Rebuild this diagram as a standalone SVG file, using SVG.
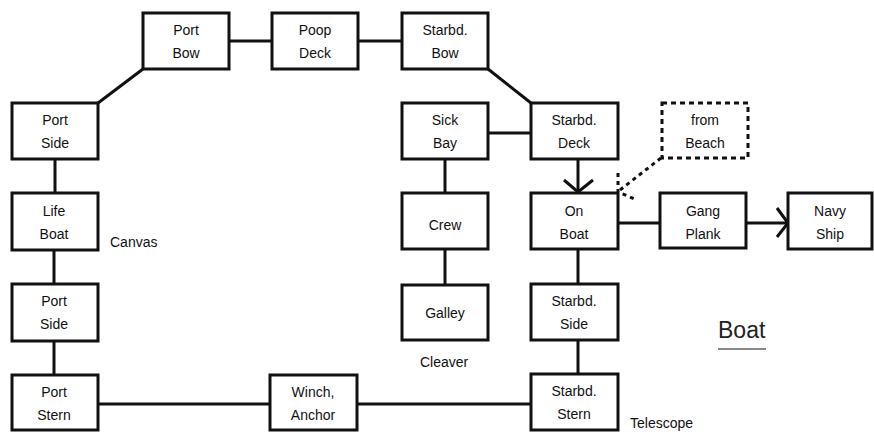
<svg xmlns="http://www.w3.org/2000/svg" width="874" height="432" viewBox="0 0 874 432">
<style>
.box{fill:#fff;stroke:#111;stroke-width:3}
.dbox{fill:#fff;stroke:#111;stroke-width:3;stroke-dasharray:5 4}
.t{font-family:"Liberation Sans",Arial,sans-serif;font-size:14px;fill:#111;text-anchor:middle}
.lbl{font-family:"Liberation Sans",Arial,sans-serif;font-size:14px;fill:#111}
.c{stroke:#111;stroke-width:3;fill:none}
.d{stroke:#111;stroke-width:3;fill:none;stroke-dasharray:4 4}
</style>
<rect width="874" height="432" fill="#fff"/>
<g id="connectors">
<line class="c" x1="229" y1="41" x2="272" y2="41"/>
<line class="c" x1="358" y1="41" x2="402" y2="41"/>
<line class="c" x1="143" y1="69" x2="98" y2="103"/>
<line class="c" x1="488" y1="69" x2="531" y2="103"/>
<line class="c" x1="55" y1="159" x2="55" y2="193"/>
<line class="c" x1="54" y1="249" x2="54" y2="284"/>
<line class="c" x1="54" y1="340" x2="54" y2="375"/>
<line class="c" x1="98" y1="404" x2="270" y2="404"/>
<line class="c" x1="357" y1="404" x2="531" y2="404"/>
<line class="c" x1="578" y1="340" x2="578" y2="375"/>
<line class="c" x1="578" y1="249" x2="578" y2="284"/>
<line class="c" x1="488" y1="133" x2="531" y2="133"/>
<line class="c" x1="445" y1="159" x2="445" y2="193"/>
<line class="c" x1="445" y1="249" x2="445" y2="285"/>
<line class="c" x1="578" y1="159" x2="578" y2="192"/>
<path class="c" d="M564 180 L578 192 L593 180"/>
<line class="c" x1="618" y1="223" x2="660" y2="223"/>
<line class="c" x1="746" y1="223" x2="788" y2="223"/>
<path class="c" d="M777 208 L788 223 L777 237"/>
<line class="d" x1="661" y1="158" x2="620" y2="190"/>
<path class="d" d="M618 173 L618 192 L637 200"/>
</g>
<g id="portBow"><rect class="box" x="143" y="13" width="86" height="56"/><text class="t" x="186" y="35">Port</text><text class="t" x="186" y="58">Bow</text></g>
<g id="poopDeck"><rect class="box" x="272" y="13" width="86" height="56"/><text class="t" x="315" y="35">Poop</text><text class="t" x="315" y="58">Deck</text></g>
<g id="starbdBow"><rect class="box" x="402" y="13" width="86" height="56"/><text class="t" x="445" y="35">Starbd.</text><text class="t" x="445" y="58">Bow</text></g>
<g id="portSide1"><rect class="box" x="12" y="103" width="86" height="56"/><text class="t" x="55" y="125">Port</text><text class="t" x="55" y="148">Side</text></g>
<g id="sickBay"><rect class="box" x="402" y="103" width="86" height="56"/><text class="t" x="445" y="125">Sick</text><text class="t" x="445" y="148">Bay</text></g>
<g id="starbdDeck"><rect class="box" x="531" y="103" width="87" height="56"/><text class="t" x="574" y="125">Starbd.</text><text class="t" x="574" y="148">Deck</text></g>
<g id="fromBeach"><rect class="dbox" x="662" y="103" width="86" height="55"/><text class="t" x="705" y="125">from</text><text class="t" x="705" y="148">Beach</text></g>
<g id="lifeBoat"><rect class="box" x="12" y="193" width="86" height="57"/><text class="t" x="54" y="216">Life</text><text class="t" x="54" y="239">Boat</text></g>
<g id="crew"><rect class="box" x="402" y="193" width="86" height="56"/><text class="t" x="445" y="230">Crew</text></g>
<g id="onBoat"><rect class="box" x="531" y="193" width="87" height="56"/><text class="t" x="574" y="216">On</text><text class="t" x="574" y="239">Boat</text></g>
<g id="gangPlank"><rect class="box" x="660" y="193" width="86" height="55"/><text class="t" x="703" y="216">Gang</text><text class="t" x="703" y="239">Plank</text></g>
<g id="navyShip"><rect class="box" x="788" y="193" width="84" height="56"/><text class="t" x="830" y="216">Navy</text><text class="t" x="830" y="239">Ship</text></g>
<g id="portSide2"><rect class="box" x="12" y="284" width="86" height="57"/><text class="t" x="54" y="306">Port</text><text class="t" x="54" y="329">Side</text></g>
<g id="galley"><rect class="box" x="402" y="285" width="86" height="55"/><text class="t" x="445" y="318">Galley</text></g>
<g id="starbdSide"><rect class="box" x="531" y="284" width="87" height="56"/><text class="t" x="574" y="306">Starbd.</text><text class="t" x="574" y="329">Side</text></g>
<g id="portStern"><rect class="box" x="12" y="375" width="86" height="55"/><text class="t" x="54" y="397">Port</text><text class="t" x="54" y="420">Stern</text></g>
<g id="winch"><rect class="box" x="270" y="375" width="87" height="55"/><text class="t" x="313" y="397">Winch,</text><text class="t" x="313" y="420">Anchor</text></g>
<g id="starbdStern"><rect class="box" x="531" y="374" width="87" height="56"/><text class="t" x="574" y="396">Starbd.</text><text class="t" x="574" y="419">Stern</text></g>
<g id="labels">
<text class="lbl" x="110" y="247">Canvas</text>
<text class="lbl" x="420" y="367">Cleaver</text>
<text class="lbl" x="630" y="428">Telescope</text>
<text x="718" y="338" style="font-family:'Liberation Sans',Arial,sans-serif;font-size:23px;fill:#222">Boat</text>
<line x1="718" y1="349" x2="766" y2="349" stroke="#888" stroke-width="2"/>
</g>
</svg>
